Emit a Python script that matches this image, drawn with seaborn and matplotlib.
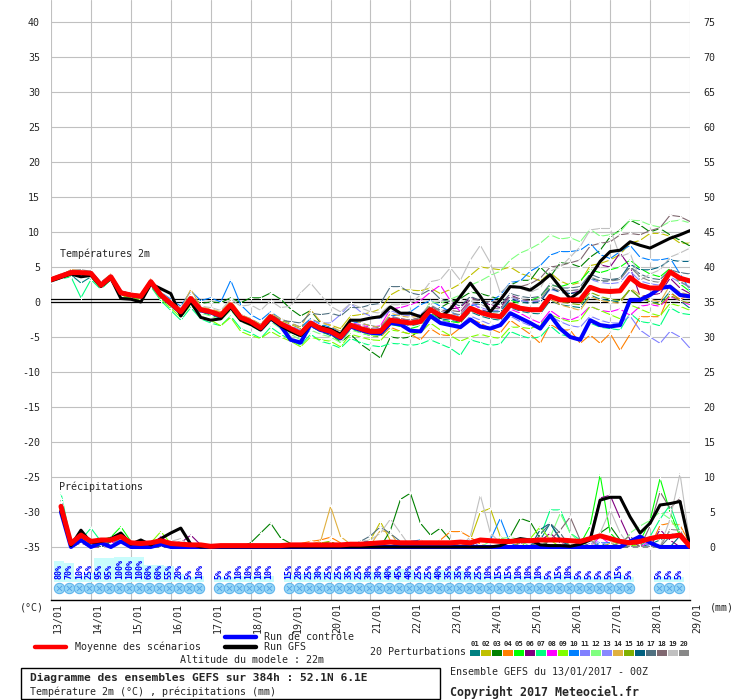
import numpy as np
import pandas as pd
import matplotlib
matplotlib.use('Agg')
import matplotlib.pyplot as plt
import seaborn as sns
from matplotlib.lines import Line2D
from matplotlib.patches import Rectangle
from matplotlib.transforms import ScaledTranslation

nan = float('nan')

# ---------------- data ----------------
dates = ['13/01', '14/01', '15/01', '16/01', '17/01', '18/01', '19/01', '20/01', '21/01',
         '22/01', '23/01', '24/01', '25/01', '26/01', '27/01', '28/01', '29/01']
steps = list(range(65))   # 6-hourly steps from 13/01 00Z

member_ids = ['01', '02', '03', '04', '05', '06', '07', '08', '09', '10',
              '11', '12', '13', '14', '15', '16', '17', '18', '19', '20']
member_colors = ['#008080', '#c0c000', '#008000', '#ff8000', '#00ff00', '#800080', '#00ff80',
                 '#ff00ff', '#80ff00', '#0080ff', '#8080ff', '#80ff80', '#8888ff', '#e0b040',
                 '#80b000', '#006080', '#507080', '#806870', '#c0c0c0', '#888888']

# temperatures 2m (°C)
t_mean = [3.2, 3.7, 4.2, 4.2, 4.1, 2.4, 3.6, 1.3, 1.0, 0.8,
          2.9, 1.0, -0.2, -1.4, 0.5, -1.1, -1.4, -1.9, -0.4, -2.2,
          -2.8, -3.7, -2.1, -3.1, -3.8, -4.5, -3.0, -3.8, -4.2, -5.0,
          -3.3, -3.8, -4.2, -4.2, -2.6, -2.8, -3.0, -2.8, -1.1, -1.9,
          -2.1, -2.5, -0.9, -1.5, -1.9, -2.1, -0.4, -0.9, -1.1, -1.1,
          0.8, 0.3, 0.3, 0.3, 2.1, 1.6, 1.5, 1.6, 3.5, 2.4,
          2.0, 2.0, 4.3, 3.4, 3.0]
t_gfs = [3.0, 3.5, 4.0, 3.6, 3.8, 2.2, 3.4, 0.5, 0.4, 0.0,
         2.6, 1.9, 1.2, -2.0, 0.0, -2.2, -2.6, -2.4, -0.8, -2.6,
         -3.2, -4.0, -2.4, -3.4, -4.2, -4.8, -3.2, -3.6, -3.9, -4.6,
         -2.6, -2.6, -2.3, -2.1, -0.7, -1.6, -1.6, -2.1, -1.0, -2.2,
         -1.0, 0.8, 2.7, 0.8, -1.4, 0.3, 2.2, 2.1, 1.7, 2.7,
         3.9, 2.1, 0.5, 1.5, 3.6, 5.8, 7.2, 7.4, 8.6, 8.1,
         7.7, 8.4, 9.1, 9.6, 10.2]
t_ctrl = [3.2, 3.7, 4.2, 4.1, 4.1, 2.4, 3.5, 1.3, 1.0, 0.8,
          2.8, 0.9, -0.3, -1.5, 0.4, -1.2, -1.5, -2.0, -0.5, -2.4,
          -3.0, -3.9, -2.3, -3.4, -5.4, -5.8, -3.2, -4.0, -4.4, -5.2,
          -3.5, -4.0, -4.4, -4.5, -3.0, -3.2, -4.1, -4.2, -2.0, -3.0,
          -3.3, -3.6, -2.5, -3.5, -3.8, -3.3, -1.6, -2.3, -3.0, -3.8,
          -1.9, -3.8, -5.0, -5.4, -2.6, -3.3, -3.5, -3.3, 0.3, 0.3,
          1.0, 2.0, 2.2, 1.0, 0.8]

t_p01 = [3.0, 3.4, 3.9, 2.7, 3.6, 2.0, 3.2, 1.0, 0.6, 0.4,
         2.5, 0.7, -0.6, -1.8, 0.2, -1.4, -1.9, -2.3, -0.9, -2.6,
         -3.2, -4.2, -2.6, -3.6, -4.3, -5.0, -3.5, -4.2, -4.8, -5.3,
         -3.6, -4.0, -4.5, -4.4, -2.8, -3.0, -3.4, -3.1, -1.4, -2.4,
         -2.6, -2.9, -1.4, -2.0, -2.4, -2.6, -0.8, -1.3, -1.6, -1.7,
         0.2, -0.4, -0.6, -0.8, 1.0, 0.4, 0.2, 0.0, 1.8, 0.6,
         0.0, -0.2, 1.5, 0.2, -0.9]
t_p02 = [3.3, 3.9, 4.5, 4.4, 4.3, 2.6, 3.8, 1.5, 1.2, 1.0,
         3.0, 1.2, 0.1, -1.0, 0.8, -0.8, -1.2, -1.5, 0.0, -1.9,
         -2.4, -3.2, -1.7, -2.6, -3.2, -3.8, -2.4, -3.0, -3.3, -3.8,
         -2.0, -1.8, -1.5, -1.0, 1.0, 1.8, 1.7, 1.6, 2.0, 1.2,
         1.8, 2.6, 3.8, 5.0, 4.8, 4.6, 5.0, 4.1, 3.6, 3.0,
         4.2, 3.0, 2.4, 2.8, 5.2, 5.5, 6.0, 6.8, 8.4, 8.8,
         9.8, 9.8, 9.4, 8.4, 8.4]
t_p03 = [3.1, 3.6, 4.0, 4.1, 4.0, 2.2, 3.3, 1.2, 0.9, 0.6,
         2.6, 0.8, -0.3, -1.0, 0.6, -0.2, 0.0, -0.1, 0.6, -0.1,
         0.6, 0.6, 1.3, 0.4, -1.0, -2.0, -1.2, -3.0, -4.5, -5.8,
         -4.6, -6.0, -7.0, -8.0, -5.0, -5.2, -5.0, -4.0, -1.5, -0.8,
         0.0, 0.5, 1.4, 1.2, 0.8, 0.4, 2.4, 3.1, 3.1, 5.0,
         3.6, 5.6, 5.5, 5.0, 6.4, 7.4, 9.3, 10.3, 11.7, 11.0,
         10.0, 10.5, 9.6, 8.8, 8.0]
t_p04 = [3.4, 3.8, 4.6, 4.5, 4.3, 2.8, 4.0, 1.6, 1.2, 1.1,
         3.3, 1.2, 0.0, -1.2, 1.0, -0.9, -1.0, -1.6, -0.2, -2.0,
         -2.6, -3.4, -1.8, -2.8, -3.6, -4.4, -2.9, -3.7, -4.2, -5.2,
         -3.6, -4.2, -4.8, -5.0, -3.6, -4.2, -4.6, -5.4, -3.8, -4.7,
         -4.8, -3.7, -2.4, -3.0, -3.8, -4.4, -2.6, -3.6, -4.6, -5.9,
         -3.2, -4.0, -4.0, -5.9, -4.7, -5.9, -4.5, -6.9, -4.6, -2.1,
         -2.1, -2.1, 1.3, 0.4, 1.0]
t_p05 = [3.0, 3.5, 4.1, 4.0, 3.9, 2.3, 3.5, 1.0, 0.8, 0.5,
         2.7, 0.8, -0.5, -1.6, 0.3, -1.3, -1.8, -2.2, -0.6, -2.5,
         -3.0, -4.0, -2.3, -3.4, -4.0, -4.8, -3.3, -4.3, -4.6, -5.6,
         -3.8, -4.4, -4.8, -4.9, -3.2, -3.5, -3.8, -3.4, -1.6, -2.6,
         -2.8, -3.0, -1.2, -1.6, -2.0, -1.8, 0.2, -0.2, 0.2, 0.8,
         2.4, 2.2, 2.6, 3.0, 4.6, 4.2, 4.6, 5.0, 6.0, 4.8,
         4.0, 3.6, 4.8, 2.6, 1.5]
t_p06 = [3.2, 3.7, 4.3, 4.3, 4.2, 2.5, 3.7, 1.3, 1.0, 0.9,
         3.0, 1.1, -0.1, -1.3, 0.6, -1.0, -1.5, -2.0, -0.4, -2.3,
         -2.9, -3.8, -2.2, -3.3, -4.0, -4.6, -3.1, -3.9, -4.4, -5.0,
         -3.2, -3.6, -4.0, -3.8, -2.2, -2.4, -2.6, -2.2, -0.6, -1.3,
         -1.0, -0.8, 0.6, 0.2, -0.4, -0.8, 1.0, 0.4, 0.1, 0.0,
         2.0, 1.4, 1.2, 1.6, 4.0, 5.3, 5.0, 7.0, 5.0, 0.8,
         1.0, 1.2, 3.4, 2.0, 1.2]
t_p07 = [3.0, 3.3, 3.6, 0.6, 3.2, 1.8, 3.2, 0.8, 0.5, 0.2,
         2.2, 0.2, -1.2, -2.6, -0.8, -2.4, -3.0, -3.4, -2.0, -3.8,
         -4.4, -5.2, -3.6, -4.6, -5.4, -6.2, -4.6, -5.6, -6.0, -6.6,
         -5.2, -5.8, -6.2, -6.4, -5.9, -6.0, -6.2, -6.0, -5.4, -6.0,
         -6.6, -7.6, -5.4, -5.8, -6.2, -6.0, -4.2, -4.8, -5.2, -5.0,
         -3.4, -4.6, -5.0, -5.2, -3.0, -3.6, -3.8, -4.0, -1.6, -2.8,
         -3.0, -3.4, -0.8, -1.6, -1.8]
t_p08 = [3.1, 3.6, 4.0, 4.0, 3.8, 2.0, 3.3, 1.0, 0.7, 0.6,
         2.8, 0.9, -0.4, -1.6, 0.3, -1.3, -1.7, -2.2, -0.6, -2.4,
         -3.0, -3.9, -2.4, -3.4, -4.1, -4.8, -3.4, -3.9, -4.3, -5.4,
         -2.9, -3.3, -3.6, -3.4, -1.0, -0.8, -0.4, 0.2, 1.4, 2.4,
         0.2, -1.4, 0.0, -1.0, -1.6, -2.2, -1.0, -1.6, -2.4, -3.0,
         -1.2, -2.2, -2.6, -2.0, -0.6, -1.2, -1.4, -1.0, -1.9, -0.6,
         -0.4, -0.6, 0.8, 0.2, -0.4]
t_p09 = [3.0, 3.4, 3.8, 3.8, 3.6, 2.0, 3.2, 0.9, 0.6, 0.3,
         2.4, 0.4, -0.9, -2.2, -0.4, -2.0, -2.6, -3.4, -2.2, -4.2,
         -4.8, -5.2, -4.2, -5.0, -5.6, -6.4, -5.0, -5.4, -5.6, -6.4,
         -4.6, -5.0, -5.4, -5.5, -4.0, -4.2, -4.6, -4.4, -3.0, -4.0,
         -4.8, -5.6, -5.0, -4.6, -5.0, -5.2, -3.6, -3.6, -3.8, -3.2,
         -1.8, -2.4, -2.8, -2.6, -0.6, -1.2, -1.8, -2.4, -0.4, -1.0,
         -1.6, -2.0, -0.2, -0.6, -1.2]
t_p10 = [3.3, 3.8, 4.3, 4.2, 4.4, 2.8, 3.9, 1.6, 1.1, 1.0,
         3.0, 1.4, 0.4, -0.6, 1.6, 0.2, 0.6, 0.0, 3.1, -0.4,
         -1.8, -2.6, -1.4, -2.4, -3.0, -3.6, -2.4, -3.2, -3.6, -4.2,
         -2.8, -3.0, -3.4, -3.6, -2.0, -1.8, -1.4, -0.4, 0.2, -0.6,
         -1.4, -2.0, -0.6, -0.2, 0.0, 1.0, 2.8, 3.0, 4.4, 5.2,
         6.7, 7.2, 7.2, 7.4, 8.4, 6.8, 6.2, 7.2, 8.1, 6.4,
         6.0, 6.0, 6.3, 4.0, 1.7]
t_p11 = [3.2, 3.6, 4.1, 4.2, 4.0, 2.4, 3.4, 1.2, 0.9, 0.7,
         2.8, 0.9, -0.4, -1.6, 0.4, -1.2, -1.6, -2.1, -0.6, -2.2,
         -2.6, -3.4, -1.8, -3.0, -3.4, -4.2, -2.6, -3.6, -4.0, -4.6,
         -3.0, -3.6, -4.0, -4.0, -2.4, -2.8, -3.0, -3.2, -1.8, -2.6,
         -3.0, -3.4, -2.0, -2.6, -3.2, -3.6, -2.0, -2.8, -3.4, -3.8,
         -2.0, -2.8, -3.4, -3.6, -2.0, -2.6, -3.0, -3.0, -2.0, -4.0,
         -5.0, -5.9, -4.2, -5.0, -6.6]
t_p12 = [3.1, 3.5, 4.0, 4.1, 3.9, 2.2, 3.4, 1.1, 0.8, 0.5,
         2.7, 0.7, -0.6, -1.8, 0.0, -1.6, -2.0, -2.6, -1.2, -2.8,
         -3.4, -4.2, -2.8, -3.8, -4.6, -5.4, -4.0, -4.6, -5.0, -5.8,
         -4.0, -4.4, -4.8, -4.8, -3.0, -3.0, -3.0, -2.2, 0.0, -0.2,
         0.4, 1.0, 2.4, 3.0, 3.8, 4.4, 6.0, 7.0, 7.6, 8.4,
         9.6, 9.0, 9.2, 8.6, 10.4, 9.4, 9.6, 10.0, 11.7, 11.6,
         11.0, 10.7, 11.5, 11.7, 11.3]
t_p13 = [3.3, 3.8, 4.2, 4.3, 4.1, 2.5, 3.7, 1.4, 1.1, 0.9,
         3.0, 1.0, -0.1, -1.2, 0.7, -0.8, -1.2, -1.6, -0.2, -1.8,
         -2.4, -3.2, -1.6, -2.8, -3.4, -4.0, -2.6, -3.0, -3.0, -1.8,
         -0.2, -1.4, -2.0, -2.4, -1.2, -1.8, -2.0, -1.8, -0.4, -1.2,
         -1.6, -2.0, -0.2, -0.8, -1.2, -1.2, 0.6, 0.2, 0.0, 0.2,
         1.8, 1.4, 1.6, 1.8, 3.2, 2.8, 2.6, 2.8, 4.4, 3.0,
         2.6, 2.4, 3.6, 2.8, 2.2]
t_p14 = [3.4, 4.0, 4.4, 4.4, 4.2, 2.6, 3.8, 1.4, 1.1, 0.9,
         3.1, 1.3, 0.2, -1.0, 1.8, -0.6, -1.0, -1.4, 0.2, -1.8,
         -2.4, -3.2, -1.6, -2.4, -3.0, -3.6, -1.1, -2.8, -3.4, -4.2,
         -2.4, -3.0, -3.4, -3.6, -1.6, -2.0, -2.2, -2.0, -0.4, -1.4,
         -1.8, -2.2, -0.6, -1.2, -1.6, -1.8, 0.0, -0.6, -1.0, -1.4,
         0.4, -0.4, -0.8, -1.2, 0.8, 0.2, 0.0, -0.2, 2.0, 1.0,
         0.4, 0.0, 2.4, 1.4, 1.0]
t_p15 = [3.2, 3.6, 4.1, 4.1, 4.0, 2.3, 3.5, 1.2, 0.9, 0.7,
         2.9, 0.9, -0.3, -1.5, 0.4, -1.2, -1.5, -2.0, -0.5, -2.4,
         -3.0, -3.8, -2.2, -3.2, -3.9, -4.6, -3.1, -3.9, -4.3, -5.1,
         -3.4, -3.9, -4.3, -4.3, -2.7, -2.9, -3.1, -2.9, -1.2, -2.0,
         -2.2, -2.6, -1.0, -1.6, -2.0, -2.2, -0.6, -1.0, -1.2, -1.2,
         0.6, 0.0, -0.2, -0.4, 1.4, 0.8, 0.4, 0.2, 1.8, 0.6,
         0.0, -0.4, 1.0, 0.2, -0.2]
t_p16 = [3.1, 3.5, 4.1, 3.9, 4.0, 2.3, 3.5, 1.1, 0.8, 0.6,
         2.8, 0.8, -0.4, -1.6, 0.3, -1.3, -1.6, -2.1, -0.6, -2.6,
         -3.2, -4.0, -2.4, -3.4, -4.1, -4.8, -3.3, -4.1, -4.5, -5.3,
         -3.6, -4.1, -4.5, -4.5, -2.9, -3.1, -3.3, -3.0, -1.2, -2.0,
         -2.2, -2.4, -0.8, -1.2, -1.4, -1.4, 0.4, 0.0, -0.2, 0.0,
         2.0, 1.4, 1.2, 1.4, 3.4, 3.0, 3.0, 3.4, 5.4, 4.6,
         4.6, 5.0, 6.0, 5.8, 5.8]
t_p17 = [3.3, 3.7, 4.2, 4.3, 4.1, 2.5, 3.8, 1.3, 1.0, 0.8,
         3.0, 1.0, -0.2, -1.4, 0.6, -1.0, -1.3, -1.8, -0.2, -2.0,
         -2.6, -3.4, -1.8, -2.6, -2.8, -3.0, -1.6, -1.8, -1.6, -2.0,
         -0.8, -0.8, -0.4, -0.2, 2.2, 2.2, 1.3, 1.0, 1.8, 0.4,
         0.0, -0.6, 0.8, 0.2, -0.2, -0.4, 1.2, 0.8, 0.6, 0.8,
         2.6, 2.0, 2.0, 2.2, 4.0, 3.4, 3.2, 3.4, 5.0, 4.0,
         3.4, 3.2, 4.6, 4.2, 4.0]
t_p18 = [3.2, 3.7, 4.2, 4.2, 4.0, 2.4, 3.6, 1.2, 0.9, 0.8,
         2.9, 1.0, -0.2, -1.4, 0.5, -1.1, -1.4, -1.9, -0.4, -2.3,
         -2.9, -3.7, -2.1, -3.2, -3.9, -4.6, -3.1, -3.9, -4.3, -5.0,
         -3.3, -3.8, -4.1, -4.0, -2.4, -2.6, -2.7, -2.4, -0.6, -1.2,
         -1.2, -1.4, 0.4, 0.2, 0.0, 0.2, 2.0, 2.2, 2.6, 3.4,
         5.0, 5.2, 5.6, 6.0, 8.0, 8.4, 8.6, 9.6, 9.8, 9.6,
         10.2, 10.6, 12.4, 12.2, 11.5]
t_p19 = [3.3, 3.8, 4.4, 4.4, 4.3, 2.7, 3.9, 1.5, 1.2, 1.0,
         3.2, 1.4, 0.2, -0.8, 1.0, -0.6, -0.8, -1.2, 0.4, -0.6,
         -0.4, -1.2, 0.2, -0.8, -0.6, 1.3, 2.7, 1.0, -0.6, -1.4,
         -0.2, -0.8, -1.4, -1.6, -0.4, -0.4, -0.2, 1.0, 2.9, 3.2,
         4.9, 3.1, 6.0, 8.1, 5.6, 1.3, 2.6, 2.0, 1.4, 2.0,
         4.4, 5.0, 6.4, 7.9, 10.3, 10.5, 10.5, 6.5, 7.0, 3.1,
         4.0, 4.6, 6.4, 7.0, 7.7]
t_p20 = [3.3, 3.9, 4.5, 4.6, 4.4, 2.6, 3.7, 1.4, 1.1, 0.9,
         3.1, 1.1, -0.1, -1.3, 0.6, -1.0, -1.4, -1.8, -0.4, -2.2,
         -2.8, -3.6, -2.0, -3.0, -3.6, -4.4, -3.0, -3.6, -4.0, -4.8,
         -3.0, -3.4, -3.8, -3.6, -2.0, -2.4, -2.6, -2.2, -0.4, -1.4,
         -1.6, -1.8, 0.0, -0.4, -0.8, -1.0, 0.8, 0.4, 0.2, 0.4,
         2.2, 1.6, 1.6, 1.8, 3.6, 3.0, 3.0, 3.2, 5.0, 3.6,
         3.0, 2.8, 4.2, 3.0, 2.0]

# precipitations (mm per 6h), no value at step 0
p_mean = [nan, 5.8, 0.5, 1.7, 0.8, 1.0, 1.0, 1.5, 0.6, 0.5, 0.6, 0.9, 0.5, 0.4, 0.3, 0.3, 0.1,
          0.2, 0.2, 0.2, 0.2, 0.2, 0.2, 0.2, 0.3, 0.3, 0.3, 0.3, 0.3, 0.3, 0.4, 0.4, 0.5,
          0.6, 0.7, 0.6, 0.6, 0.6, 0.6, 0.6, 0.6, 0.7, 0.6, 1.0, 0.9, 0.8, 0.8, 0.9, 0.9,
          1.0, 1.0, 1.0, 0.9, 0.8, 1.2, 1.6, 1.2, 0.8, 0.6, 0.8, 1.2, 1.5, 1.5, 1.7, 0.1]
p_gfs = [nan, 5.2, 0.2, 2.4, 0.6, 0.8, 1.2, 2.0, 0.4, 1.0, 0.3, 1.2, 2.0, 2.7, 0.4, 0, 0,
         0, 0, 0, 0, 0, 0, 0, 0, 0, 0, 0, 0, 0, 0, 0, 0,
         0, 0, 0, 0, 0, 0, 0, 0, 0, 0, 0, 0, 0.2, 0.8, 1.2, 1.0,
         0.3, 0.2, 0.2, 0.1, 0.4, 1.0, 6.7, 7.1, 7.1, 4.3, 2.0, 3.4, 6.0, 6.2, 6.5, 0.1]
p_ctrl = [nan, 5.0, 0, 1.0, 0, 0.6, 0, 0.8, 0, 0, 0, 0.4, 0, 0, 0, 0, 0,
          0, 0, 0, 0, 0, 0, 0, 0, 0, 0, 0, 0, 0, 0, 0, 0,
          0, 0, 0, 0, 0, 0, 0, 0, 0, 0, 0, 0, 0, 0, 0, 0,
          0, 0, 0, 0, 0, 0, 0, 0, 0, 0.8, 1.5, 0.6, 0, 0, 0, 0]

p_p01 = [nan, 6.5, 0.3, 1.2, 0.8, 0.5, 0.8, 1.2, 0.3, 0, 0.4, 0.6, 0, 0.2, 0, 0, 0,
         0, 0, 0, 0, 0, 0, 0, 0, 0, 0, 0, 0, 0, 0, 0, 0,
         0.5, 0.6, 0, 0, 0, 0, 0, 0, 0, 0, 0, 0, 0, 0, 0, 0,
         1.0, 3.4, 1.2, 0, 0, 0, 0.5, 0, 0, 0, 0, 0.4, 1.0, 2.0, 1.4, 0]
p_p02 = [nan, 5.0, 0, 0.8, 0.4, 0.6, 1.0, 2.0, 0.5, 0, 0, 0.6, 0, 0, 0, 0, 0,
         0, 0, 0, 0, 0, 0, 0, 0, 0, 0, 0, 0, 0, 0.3, 0.6, 1.0,
         3.6, 0.9, 0, 0, 0, 0, 0, 0, 0, 1.0, 5.0, 5.5, 1.5, 0.4, 0, 0,
         0, 0, 0, 0.6, 0.8, 0, 0, 0, 0, 0, 0, 0, 0, 0, 0, 0]
p_p03 = [nan, 6.0, 0, 1.0, 0.5, 0, 0.8, 1.6, 0.2, 0, 0, 0, 0, 0, 0, 0, 0,
         0, 0, 0, 0.6, 2.0, 3.4, 1.3, 0.5, 0, 0, 0, 0, 0, 0, 0, 0,
         0, 2.4, 6.8, 7.7, 3.4, 1.7, 2.7, 1.0, 0, 0, 0, 0, 0, 1.5, 4.1, 3.6,
         1.2, 0, 0, 0, 0, 0, 2.0, 3.0, 1.0, 0, 0, 0, 0, 0, 0, 0]
p_p04 = [nan, 5.5, 0, 1.0, 0, 0.8, 0, 0.8, 0, 0.4, 0, 0, 0, 0, 0, 0, 0,
         0, 0, 0, 0, 0, 0, 0, 0, 0.5, 0.8, 1.0, 1.4, 0.6, 0, 0, 0,
         0, 0, 0, 0, 0, 0, 1.0, 2.2, 2.2, 1.4, 0.4, 0, 0, 0, 0, 0,
         0, 0, 0, 0.3, 0, 0, 0, 0, 0, 0, 0, 0, 3.1, 3.4, 3.1, 0.5]
p_p05 = [nan, 5.8, 0, 1.4, 0.6, 1.0, 1.4, 2.9, 0.8, 0, 0, 0.8, 0.3, 0, 0, 0, 0,
         0, 0, 0, 0, 0, 0, 0, 0, 0, 0, 0, 0, 0, 0, 0, 0,
         0, 0, 0, 0, 0, 0, 0, 0, 0, 0, 0, 0, 0, 0, 0.6, 1.0,
         0, 0, 0, 0, 0.4, 3.0, 10.3, 2.0, 0.6, 0, 0.8, 3.8, 9.8, 5.0, 1.5, 0]
p_p06 = [nan, 6.2, 0, 1.2, 0, 0, 0.6, 1.0, 0, 0, 0, 0.4, 0, 0.6, 1.7, 0.3, 0,
         0, 0, 0, 0, 0, 0, 0, 0, 0, 0, 0, 0, 0, 0, 0, 0,
         0, 0, 0, 0, 0, 0, 0, 0, 0, 0, 0, 0, 0, 0, 0, 0,
         0.8, 2.0, 0.6, 0, 0, 1.5, 7.0, 7.4, 4.1, 1.0, 0, 0, 2.5, 1.0, 0, 0]
p_p07 = [nan, 7.7, 0.8, 1.0, 2.7, 0.8, 0.6, 1.4, 0, 0, 0.3, 0, 0.2, 0, 0, 0, 0,
         0, 0, 0, 0, 0, 0, 0, 0, 0, 0, 0, 0, 0, 0, 0, 0,
         0, 0, 0, 0, 0, 0, 0, 0, 0, 0, 0, 0, 0, 0, 0, 0,
         1.5, 5.3, 5.3, 2.0, 1.0, 0, 0, 0, 0, 0, 0, 1.5, 4.0, 6.0, 2.0, 0]
p_p08 = [nan, 5.3, 0, 0.6, 0, 1.2, 0.6, 1.0, 0, 0, 0, 1.5, 0.4, 0, 0, 0, 0,
         0.2, 0, 0, 0, 0, 0, 0, 0, 0, 0, 0.5, 0.8, 0, 0, 0, 0,
         0, 0, 0, 0, 0, 0, 0, 0, 0, 0, 0, 0, 0, 0, 0, 0,
         0, 0, 0, 0, 0, 0, 1.5, 0.4, 0, 0, 0, 0.8, 0, 0, 0, 0]
p_p09 = [nan, 5.0, 0, 0.8, 0.4, 0, 0.8, 1.4, 0, 0, 0.6, 2.2, 0.5, 0, 0, 0, 0,
         0, 0, 0, 0, 0, 0, 0, 0, 0, 0, 0.6, 0.8, 0, 0, 0, 0,
         0, 0, 0, 0.5, 1.0, 0, 0, 0, 0, 0, 0, 0, 0, 0, 0, 1.2,
         2.9, 1.0, 0, 0, 0, 0, 0, 0, 0.8, 0.4, 0, 0, 0, 0, 0, 0]
p_p10 = [nan, 6.0, 0, 0.6, 0, 0.5, 0, 0.8, 0, 0, 0, 0.5, 0, 0, 0, 0, 0,
         0, 0, 0, 0, 0, 0, 0, 0, 0, 0, 0, 0, 0, 0, 0.8, 0.8,
         0, 0, 0, 0.8, 1.0, 0, 0, 0, 0, 0, 1.2, 1.0, 4.1, 0.5, 0, 0,
         0, 0, 0, 0, 0, 0, 0.6, 0.6, 0, 0, 0, 0, 0, 0, 0, 0]
p_p11 = [nan, 5.6, 0, 0.8, 0, 0.6, 0, 0.8, 0, 0, 0, 0.8, 0.3, 0, 0, 0, 0,
         0, 0, 0, 0, 0, 0, 0, 0, 0, 0, 0, 0, 0, 0, 0, 0,
         0, 0, 0, 0, 0, 0, 0, 0, 0.6, 1.0, 0, 0, 0, 0, 0, 0,
         0, 0, 0, 0, 0, 0, 0, 0, 0, 0.6, 1.0, 0, 0, 0, 0, 0]
p_p12 = [nan, 6.6, 0, 1.2, 0.8, 0, 1.0, 1.6, 0, 0, 0, 1.0, 0, 0, 0, 0, 0,
         0, 0, 0, 0, 0, 0, 0, 0, 0, 0, 0, 0, 0, 0, 0, 0,
         0, 0, 0, 0, 0, 0, 0, 0, 0, 0, 0, 0.8, 1.2, 1.4, 1.0, 0,
         0, 1.4, 4.8, 2.0, 0.6, 0, 0, 0, 0, 2.0, 3.0, 3.8, 5.0, 4.0, 2.0, 0]
p_p13 = [nan, 5.9, 0, 0.8, 0, 0.8, 0, 1.0, 0, 0, 0, 0.6, 0, 0, 0, 0, 0,
         0, 0, 0, 0, 0, 0, 0, 0, 0, 0, 0, 0, 0, 0, 0, 0,
         0, 0, 0, 0, 0.6, 0.8, 0, 0, 0, 0, 0, 0, 0, 0, 0, 0,
         0, 0, 0, 0, 0, 0.5, 0.8, 0, 0, 0, 0, 0, 0, 0, 0, 0]
p_p14 = [nan, 6.1, 0, 0.6, 0, 0.8, 0, 1.4, 0.4, 0, 0, 0, 0, 0, 0, 0, 0,
         0, 0, 0, 0, 0, 0, 0, 0, 0, 0.4, 0.8, 5.8, 1.5, 0.4, 0, 0.3,
         2.4, 2.0, 0, 0, 0, 0, 0, 0, 0.6, 0, 0, 0, 0, 0, 0, 0,
         0, 0, 0, 0, 0, 0, 0, 0.5, 0.8, 0, 0, 0, 0, 0, 0, 0]
p_p15 = [nan, 5.4, 0, 0.8, 0, 0.6, 0, 1.0, 0, 0, 0, 0.4, 0, 0, 0, 0, 0,
         0, 0, 0, 0, 0, 0, 0, 0, 0, 0.3, 0.4, 0.8, 0, 0, 0, 0,
         0, 0, 0, 0, 0, 0, 0, 0, 0, 0, 0, 0, 0, 0, 0.6, 0.8,
         0, 0, 0, 0, 0, 0, 0, 0.4, 0, 0, 0, 0, 0, 0, 0, 0]
p_p16 = [nan, 6.3, 0, 0.8, 0.4, 0, 0.8, 1.2, 0, 0, 0, 0.4, 0, 0, 0, 0, 0,
         0, 0, 0, 0, 0, 0, 0, 0, 0, 0, 0, 0, 0, 0, 0, 0,
         0, 0, 0, 0, 0, 0.3, 0, 0, 0, 0, 0, 0, 0, 0, 0, 0,
         2.5, 3.4, 1.0, 0, 0, 0, 0, 0, 0, 0, 0, 0, 0, 0, 1.6, 0.4]
p_p17 = [nan, 6.8, 0, 1.6, 0.6, 0, 1.0, 1.2, 0, 0, 0, 0, 0, 0.4, 0, 0, 0,
         0, 0, 0, 0, 0, 0, 0, 0, 0, 0, 0, 0, 0, 0, 0.8, 1.6,
         2.9, 1.9, 0.8, 0, 0, 0, 0, 0, 0, 0, 0, 0, 0, 0, 0, 0,
         1.8, 3.4, 2.0, 0, 0, 0, 0, 0, 0, 0, 0, 0, 0, 1.5, 2.0, 0]
p_p18 = [nan, 6.0, 0, 1.0, 0, 0.8, 0, 1.2, 0, 0, 0, 0, 0, 0.6, 0.4, 0, 0,
         0, 0, 0, 0, 0, 0, 0, 0, 0, 0, 0, 0, 0, 0, 0, 0,
         0, 0, 0, 0, 0, 0, 0, 0, 0, 0, 0, 0, 0, 0, 0, 0,
         0, 1.0, 2.4, 4.3, 1.0, 0, 0, 0, 0.6, 1.6, 0, 3.0, 7.9, 5.5, 7.0, 0.5]
p_p19 = [nan, 6.4, 0, 2.0, 0, 0.6, 0, 1.2, 0, 0, 0, 1.0, 0.8, 1.2, 0, 0, 0,
         0, 0, 0, 0, 0, 0, 0, 0, 0, 0, 0, 0, 0, 0, 0.8, 1.0,
         2.0, 4.0, 2.0, 0, 0, 0, 0, 0, 0, 1.5, 7.4, 2.0, 0.6, 0, 0, 0,
         0, 0, 0, 0, 0, 0, 2.0, 5.3, 2.0, 0, 0, 0, 0, 4.0, 10.5, 0.4]
p_p20 = [nan, 6.0, 0, 2.2, 0.6, 1.0, 0, 1.6, 0, 0, 0, 0.8, 0.4, 0.8, 0, 0, 0,
         0, 0, 0, 0, 0, 0, 0, 0, 0, 0, 0, 0, 0, 0, 0, 0,
         0, 0, 0, 0, 0, 0, 0, 0, 0, 0, 0, 0, 0, 0, 0.5, 0.8,
         0, 0, 0, 0, 0.8, 1.0, 0, 0, 0, 0, 0, 0, 0, 2.5, 2.4, 0]

# probability of precipitation (%), per 6h step
rain_pct = [0, 80, 70, 10, 25, 95, 95, 100, 100, 100, 60, 60, 55, 20, 5, 10, 0,
            5, 5, 10, 10, 10, 10, 0, 15, 20, 25, 30, 25, 25, 35, 25, 30,
            30, 40, 45, 40, 25, 25, 40, 35, 35, 30, 25, 10, 15, 15, 10, 10,
            10, 5, 15, 10, 5, 5, 5, 5, 15, 5, 0, 0, 5, 5, 5, 0]

t_members = [t_p01, t_p02, t_p03, t_p04, t_p05, t_p06, t_p07, t_p08, t_p09, t_p10,
             t_p11, t_p12, t_p13, t_p14, t_p15, t_p16, t_p17, t_p18, t_p19, t_p20]
p_members = [p_p01, p_p02, p_p03, p_p04, p_p05, p_p06, p_p07, p_p08, p_p09, p_p10,
             p_p11, p_p12, p_p13, p_p14, p_p15, p_p16, p_p17, p_p18, p_p19, p_p20]

PRECIP_BASE = -35.0   # 0 mm drawn at -35 on the temperature scale

# ---------------- figure ----------------
sns.set_theme(style='white')
plt.rcParams['font.family'] = ['DejaVu Sans Mono', 'DejaVu Sans']
plt.rcParams['axes.unicode_minus'] = False

W, H = 740, 700
PX = 1 / 7.0          # one pixel in temperature units
fig = plt.figure(figsize=(W / 100, H / 100), dpi=100)
fig.patch.set_facecolor('white')
ax = fig.add_axes([51 / W, 100 / H, 639 / W, 600 / H])
ax.set_facecolor('white')

ax.set_xlim(0, 64)
ylo, yhi = (302 - 600) / 7.0, 302 / 7.0
ax.set_ylim(ylo, yhi)

ax.set_xticks(list(range(0, 65, 4)))
ax.set_xticklabels(dates, rotation=90, fontsize=7.2, va='top', ha='center')
ax.set_yticks(list(range(-35, 41, 5)))
ax.set_yticklabels([str(v) for v in range(-35, 41, 5)], fontsize=7.2)
ax.tick_params(axis='both', length=0)
ax.tick_params(axis='y', pad=7.9)
ax.tick_params(axis='x', pad=2)
for lbl in ax.get_xticklabels():
    lbl.set_transform(lbl.get_transform() + ScaledTranslation(7 / 100, 0, fig.dpi_scale_trans))

ax.grid(True, color='#c0c0c0', lw=0.8)
ax.set_axisbelow(True)
for s in ['top', 'left', 'right']:
    ax.spines[s].set_visible(False)
ax.spines['bottom'].set_color('black')
ax.spines['bottom'].set_linewidth(1.0)

# right axis (precip mm)
ax2 = ax.twinx()
ax2.set_ylim(ylo + 35, yhi + 35)
ax2.set_yticks(list(range(0, 76, 5)))
ax2.set_yticklabels([str(v) for v in range(0, 76, 5)], fontsize=7.2)
ax2.tick_params(axis='y', length=0, pad=18.5)
for lbl in ax2.get_yticklabels():
    lbl.set_ha('right')
for s in ax2.spines.values():
    s.set_visible(False)
ax2.grid(False)

# zero line (double)
ax.axhline(0.36, color='black', lw=0.9, zorder=1.6)
ax.axhline(0.07, color='black', lw=0.9, zorder=1.6)

# perturbations
for vals, col in zip(t_members, member_colors):
    sns.lineplot(x=steps, y=vals, ax=ax, color=col, lw=0.8, marker='+', markersize=3,
                 mew=0.7, estimator=None, sort=False, legend=False, zorder=2)
for vals, col in zip(p_members, member_colors):
    yv = [PRECIP_BASE + v for v in vals]
    sns.lineplot(x=steps, y=yv, ax=ax, color=col, lw=0.8, marker='+', markersize=3,
                 mew=0.7, estimator=None, sort=False, legend=False, zorder=2)

# control, GFS, mean
sns.lineplot(x=steps, y=t_ctrl, ax=ax, color='#0000ff', lw=2.9, estimator=None, sort=False,
             legend=False, zorder=3)
sns.lineplot(x=steps, y=[PRECIP_BASE + v for v in p_ctrl], ax=ax, color='#0000ff', lw=2.9,
             estimator=None, sort=False, legend=False, zorder=3)
sns.lineplot(x=steps, y=t_gfs, ax=ax, color='black', lw=2.2, estimator=None, sort=False,
             legend=False, zorder=3.2)
sns.lineplot(x=steps, y=[PRECIP_BASE + v for v in p_gfs], ax=ax, color='black', lw=2.2,
             estimator=None, sort=False, legend=False, zorder=3.2)
sns.lineplot(x=steps, y=t_mean, ax=ax, color='#ff0000', lw=3.6, estimator=None, sort=False,
             legend=False, zorder=3.5)
sns.lineplot(x=steps, y=[PRECIP_BASE + v for v in p_mean], ax=ax, color='#ff0000', lw=3.6,
             estimator=None, sort=False, legend=False, zorder=3.5)

ax.set_xlabel('')
ax.set_ylabel('')

# section titles
ax.text(0.9, 6.9, 'Températures 2m', fontsize=7.2, va='center', ha='left', zorder=6)
ax.text(0.8, -26.4, 'Précipitations', fontsize=7.2, va='center', ha='left', zorder=6)

# precipitation probability strip
strip = pd.DataFrame({'step': steps, 'pct': rain_pct})
wet = strip[strip['pct'] > 0]
xs = wet['step'] - 0.15
bar_h = (4 + 0.21 * wet['pct']) * PX
ax.bar(xs, bar_h, bottom=-40.0, width=1.0, color='#c8fcfc', linewidth=0, zorder=4)
ax.scatter(xs, [-40.79] * len(wet), s=56, marker='o', facecolor='#98d8f6',
           edgecolor='#58b0ec', linewidth=0.7, zorder=5)
ax.scatter(xs, [-40.79] * len(wet), s=14, marker='x', color='#4a9eea',
           linewidth=0.6, zorder=5.1)
for s_, p_ in zip(xs, wet['pct']):
    ax.text(s_, -39.6, f'{p_}%', rotation=90, ha='center', va='bottom', fontsize=6,
            color='#0000ff', fontweight='bold', zorder=6)

# ---------------- legend / footer in pixel coordinates ----------------
ov = fig.add_axes([0, 0, 1, 1], zorder=10)
ov.set_xlim(0, W)
ov.set_ylim(H, 0)
ov.axis('off')

ov.text(20, 607, '(°C)', fontsize=7.2, va='center', ha='left')
ov.text(710, 607, '(mm)', fontsize=7.2, va='center', ha='left')

ov.add_line(Line2D([35, 66], [647, 647], color='#ff0000', lw=3.2))
ov.text(75, 647, 'Moyenne des scénarios', fontsize=7.2, va='center', ha='left')
ov.add_line(Line2D([225, 256], [637, 637], color='#0000ff', lw=3.2))
ov.text(264, 637, 'Run de contrôle', fontsize=7.2, va='center', ha='left')
ov.add_line(Line2D([225, 256], [647, 647], color='black', lw=3.2))
ov.text(264, 647, 'Run GFS', fontsize=7.2, va='center', ha='left')
ov.text(180, 660, 'Altitude du modele : 22m', fontsize=7.2, va='center', ha='left')

ov.text(370, 652, '20 Perturbations', fontsize=7.2, va='center', ha='left')
for k, (mid, col) in enumerate(zip(member_ids, member_colors)):
    x0 = 470 + 11 * k
    ov.add_patch(Rectangle((x0, 650), 10, 6, facecolor=col, edgecolor='none'))
    ov.text(x0 + 5, 644, mid, fontsize=5.2, fontweight='bold', va='center', ha='center')

ov.add_patch(Rectangle((20.5, 667.5), 419.5, 31, facecolor='none', edgecolor='black', lw=1.0))
ov.text(30, 677.5, 'Diagramme des ensembles GEFS sur 384h : 52.1N 6.1E', fontsize=8.1,
        fontweight='bold', va='center', ha='left')
ov.text(30, 692, 'Température 2m (°C) , précipitations (mm)', fontsize=7.2,
        va='center', ha='left')
ov.text(450, 672, 'Ensemble GEFS du 13/01/2017 - 00Z', fontsize=7.2, va='center', ha='left')
ov.text(450, 692, 'Copyright 2017 Meteociel.fr', fontsize=8.4, fontweight='bold',
        va='center', ha='left')

fig.savefig('out.png', dpi=100)
